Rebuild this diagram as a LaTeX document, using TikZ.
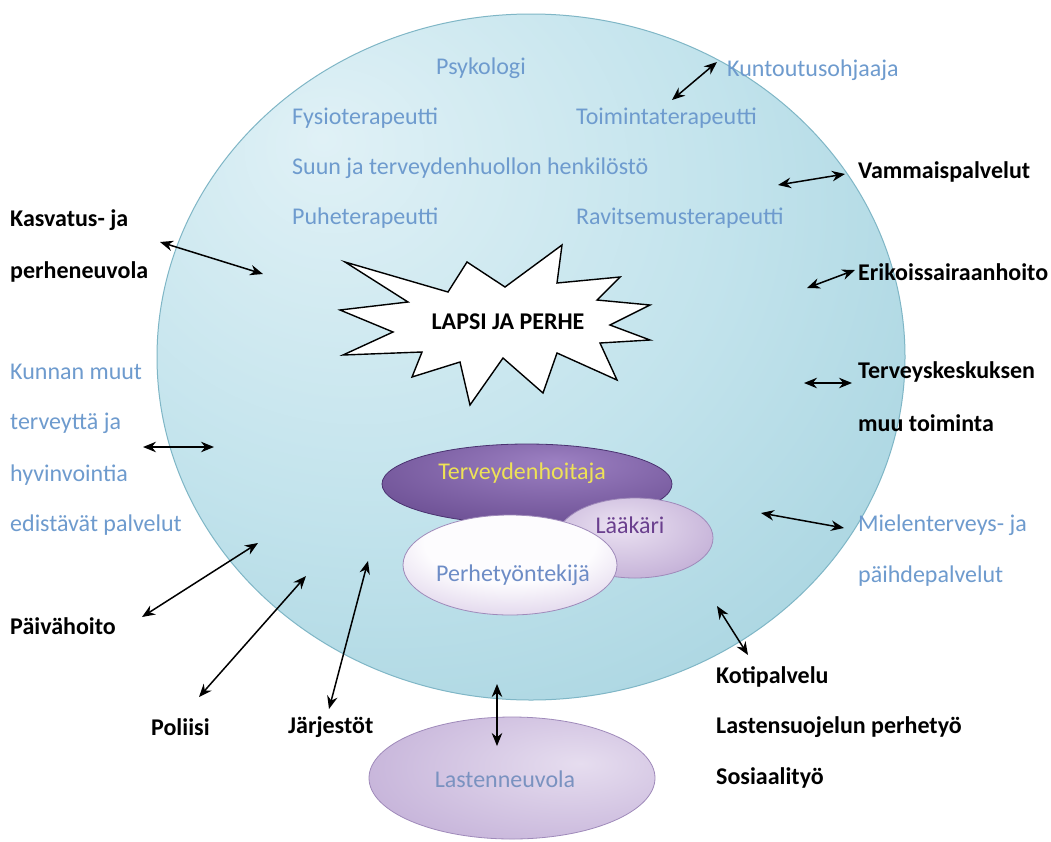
\documentclass[tikz,border=0pt]{standalone}
\usepackage{fontspec}
\setmainfont{Carlito}
\usetikzlibrary{arrows.meta,shapes.geometric}
\definecolor{cLight}{HTML}{E0F1F6}
\definecolor{cMid}{HTML}{C2E3EC}
\definecolor{cDark}{HTML}{96CAD8}
\definecolor{cEdge}{HTML}{7FB6C6}
\definecolor{lblue}{HTML}{6E9BCE}
\definecolor{pDarkIn}{HTML}{9C80C2}
\definecolor{pDarkOut}{HTML}{5E4186}
\definecolor{pEdgeD}{HTML}{4A3270}
\definecolor{lavIn}{HTML}{EBE2F2}
\definecolor{lavOut}{HTML}{B29ACB}
\definecolor{whIn}{HTML}{FDFCFE}
\definecolor{whOut}{HTML}{C4AFD9}
\definecolor{lnIn}{HTML}{E6DDEF}
\definecolor{lnOut}{HTML}{B9A3D1}
\definecolor{pEdge}{HTML}{9F8ABA}
\definecolor{yel}{HTML}{EEE256}
\definecolor{laaktext}{HTML}{6A3F8E}
\definecolor{perhtext}{HTML}{6D8CC6}
\definecolor{lntext}{HTML}{7A92C0}
\pgfdeclareradialshading{bigc}{\pgfpoint{-14bp}{16bp}}{color(0bp)=(cLight); color(24bp)=(cMid); color(55bp)=(cDark); color(100bp)=(cDark)}
\pgfdeclareradialshading{purp}{\pgfpoint{5bp}{14bp}}{color(0bp)=(pDarkIn); color(48bp)=(pDarkOut); color(100bp)=(pDarkOut)}
\pgfdeclareradialshading{lav}{\pgfpoint{-5bp}{8bp}}{color(0bp)=(lavIn); color(48bp)=(lavOut); color(100bp)=(lavOut)}
\pgfdeclareradialshading{wh}{\pgfpoint{0bp}{14bp}}{color(0bp)=(whIn); color(20bp)=(whIn); color(52bp)=(whOut); color(100bp)=(whOut)}
\pgfdeclareradialshading{lnv}{\pgfpoint{12bp}{6bp}}{color(0bp)=(lnIn); color(50bp)=(lnOut); color(100bp)=(lnOut)}
\tikzset{
  txt/.style={font=\fontsize{24}{28}\selectfont, inner sep=0pt, anchor=west},
  btxt/.style={txt, font=\fontsize{24}{28}\selectfont\bfseries, text=black},
  ltxt/.style={txt, text=lblue},
  link/.style={{Stealth[length=13pt,width=10.5pt]}-{Stealth[length=13pt,width=10.5pt]}, line width=1.5pt, black},
  blob/.style={ellipse, inner sep=0pt, line width=0.8pt}
}
\begin{document}
\begin{tikzpicture}[x=1pt,y=-1pt]
\useasboundingbox[fill=white] (0,0) rectangle (1051,841);
% big circle
\node[blob, shading=bigc, draw=cEdge, line width=1pt, minimum width=748pt, minimum height=686pt] (world) at (531,357) {};
% inner ellipses
\node[blob, shading=purp, draw=pEdgeD, minimum width=290pt, minimum height=80pt] (thE) at (527,484) {};
\node[blob, shading=lav, draw=pEdge, minimum width=156pt, minimum height=80pt] (lkE) at (635,538) {};
\node[blob, shading=wh, draw=pEdge, minimum width=214pt, minimum height=100pt] (phE) at (510,565) {};
\node[font=\fontsize{24}{28}\selectfont, text=yel, inner sep=0pt] (th) at (522,473) {Terveydenhoitaja};
\node[font=\fontsize{24}{28}\selectfont, text=laaktext, inner sep=0pt] (lk) at (630,525) {Lääkäri};
\node[font=\fontsize{24}{28}\selectfont, text=perhtext, inner sep=0pt] (ph) at (513,575) {Perhetyöntekijä};
% star
\draw[line width=1.4pt, fill=white, line join=miter]
 (345,262) -- (448,292) -- (467,262) -- (505,287) -- (562,245) -- (557,283)
 -- (620,277) -- (597,300) -- (650,305) -- (610,325) -- (650,340) -- (600,343)
 -- (617,380) -- (557,353) -- (543,393) -- (503,358) -- (470,405) -- (460,362)
 -- (412,377) -- (422,352) -- (343,355) -- (393,332) -- (340,310) -- (408,302) -- cycle;
\node[font=\fontsize{24}{28}\selectfont\bfseries, inner sep=0pt] (lapsi) at (508,322) {LAPSI JA PERHE};
% Lastenneuvola
\node[blob, shading=lnv, draw=pEdge, minimum width=286pt, minimum height=122pt] (lnE) at (512,778) {};
\node[font=\fontsize{24}{28}\selectfont, text=lntext, inner sep=0pt] (ln) at (505,779) {Lastenneuvola};
% inner blue labels
\node[ltxt] (psy) at (436,68) {Psykologi};
\node[ltxt] (fys) at (292,118) {Fysioterapeutti};
\node[ltxt] (toi) at (576,118) {Toimintaterapeutti};
\node[ltxt] (suu) at (292,168) {Suun ja terveydenhuollon henkilöstö};
\node[ltxt] (puh) at (292,218) {Puheterapeutti};
\node[ltxt] (rav) at (576,218) {Ravitsemusterapeutti};
\node[ltxt] (kun) at (727,70) {Kuntoutusohjaaja};
% outer labels right
\node[btxt] (vam) at (858,172) {Vammaispalvelut};
\node[btxt] (eri) at (858,272) {Erikoissairaanhoito};
\node[btxt] (ter1) at (858,372) {Terveyskeskuksen};
\node[btxt] (ter2) at (858,423) {muu toiminta};
\node[ltxt] (mie1) at (858,525) {Mielenterveys- ja};
\node[ltxt] (mie2) at (858,576) {päihdepalvelut};
\node[btxt] (kot) at (716,677) {Kotipalvelu};
\node[btxt] (las) at (716,727) {Lastensuojelun perhetyö};
\node[btxt] (sos) at (716,778) {Sosiaalityö};
% outer labels left
\node[btxt] (kas1) at (10,220) {Kasvatus- ja};
\node[btxt] (kas2) at (10,272) {perheneuvola};
\node[ltxt] (kn1) at (10,372) {Kunnan muut};
\node[ltxt] (kn2) at (10,423) {terveyttä ja};
\node[ltxt] (kn3) at (10,475) {hyvinvointia};
\node[ltxt] (kn4) at (10,525) {edistävät palvelut};
\node[btxt] (pai) at (10,626) {Päivähoito};
\node[btxt] (pol) at (151,727) {Poliisi};
\node[btxt] (jar) at (288,727) {Järjestöt};
% arrow end points
\coordinate (kunA) at (672,100); \coordinate (kunB) at (717,62);
\coordinate (vamA) at (778,185); \coordinate (vamB) at (845,174);
\coordinate (eriA) at (807,288); \coordinate (eriB) at (855,270);
\coordinate (terA) at (804,383); \coordinate (terB) at (852,383);
\coordinate (mieA) at (761,513); \coordinate (mieB) at (844,528);
\coordinate (kotA) at (717,606); \coordinate (kotB) at (748,655);
\coordinate (lnA) at (497,684); \coordinate (lnB) at (497,746);
\coordinate (jarA) at (368,561); \coordinate (jarB) at (329,709);
\coordinate (polA) at (306,576); \coordinate (polB) at (199,697);
\coordinate (paiA) at (258,543); \coordinate (paiB) at (142,617);
\coordinate (knA) at (143,447); \coordinate (knB) at (214,447);
\coordinate (kasA) at (160,242); \coordinate (kasB) at (263,274);
\draw[link] (kunA) -- (kunB);
\draw[link] (vamA) -- (vamB);
\draw[link] (eriA) -- (eriB);
\draw[link] (terA) -- (terB);
\draw[link] (mieA) -- (mieB);
\draw[link] (kotA) -- (kotB);
\draw[link] (lnA) -- (lnB);
\draw[link] (jarA) -- (jarB);
\draw[link] (polA) -- (polB);
\draw[link] (paiA) -- (paiB);
\draw[link] (knA) -- (knB);
\draw[link] (kasA) -- (kasB);
\end{tikzpicture}
\end{document}
